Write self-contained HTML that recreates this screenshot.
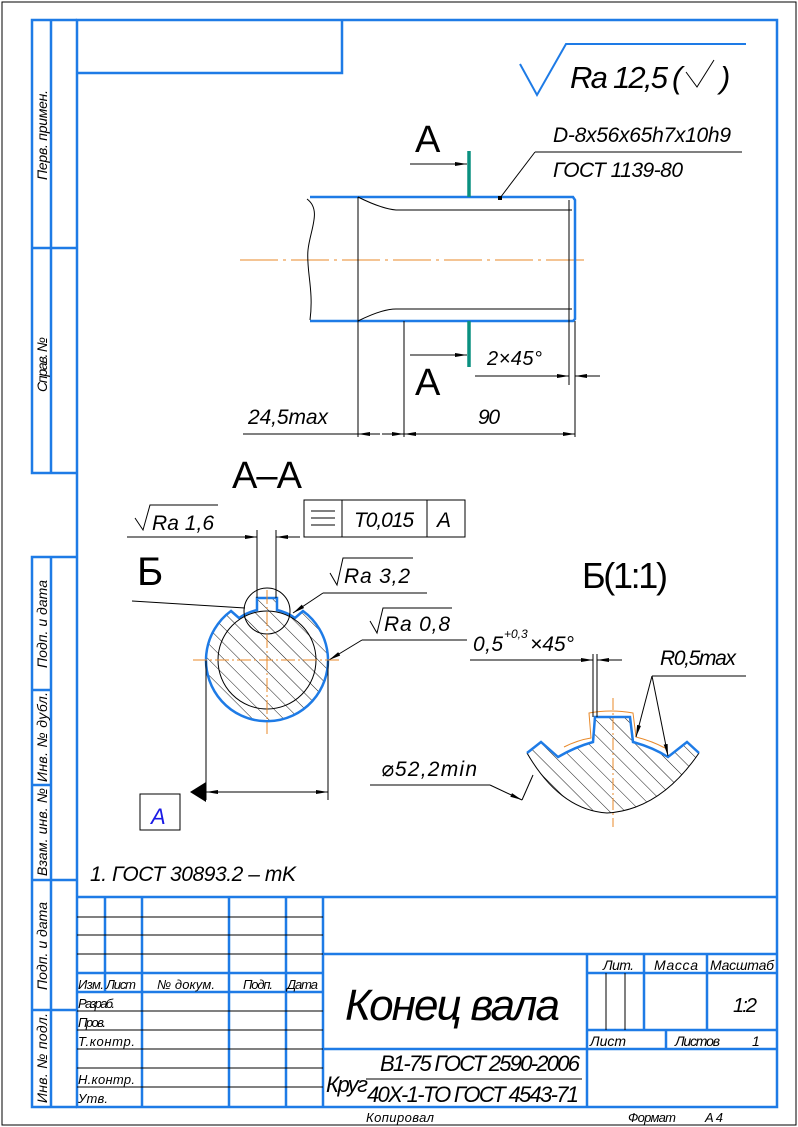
<!DOCTYPE html>
<html><head><meta charset="utf-8"><style>
html,body{margin:0;padding:0;background:#fff}
svg{display:block}
text{font-family:"Liberation Sans","DejaVu Sans",sans-serif;font-style:italic;fill:#000}
text.n{font-style:normal}
</style></head><body>
<svg width="798" height="1127" viewBox="0 0 798 1127" xmlns="http://www.w3.org/2000/svg">
<defs>
<pattern id="h" patternUnits="userSpaceOnUse" width="11" height="11" patternTransform="rotate(-45)">
<line x1="0" y1="0" x2="0" y2="11" stroke="#000" stroke-width="0.9"/>
</pattern>
<marker id="ar" viewBox="0 0 12 6" refX="12" refY="3" markerWidth="12" markerHeight="6" markerUnits="userSpaceOnUse" orient="auto">
<path d="M0,1 L12,3 L0,5 z" fill="#000"/></marker>
</defs>
<rect x="2" y="2" width="794" height="1123" fill="none" stroke="#000" stroke-width="1"/>
<g stroke="#1e7be6" stroke-width="2.5" fill="none">
<rect x="77" y="20" width="700" height="1087"/>
<polyline points="77,73 342,73 342,20"/>
<polyline points="77,20 32,20 32,473 77,473"/>
<line x1="51" y1="20" x2="51" y2="473"/>
<line x1="32" y1="248" x2="77" y2="248"/>
<polyline points="77,557 32,557 32,1107 77,1107"/>
<line x1="51" y1="557" x2="51" y2="1107"/>
<line x1="32" y1="690" x2="51" y2="690"/>
<line x1="32" y1="785" x2="51" y2="785"/>
<line x1="32" y1="880" x2="77" y2="880"/>
<line x1="32" y1="1010" x2="77" y2="1010"/>
<line x1="77" y1="897" x2="777" y2="897"/>
<line x1="105" y1="897" x2="105" y2="992"/>
<line x1="142" y1="897" x2="142" y2="1107"/>
<line x1="229" y1="897" x2="229" y2="1107"/>
<line x1="286" y1="897" x2="286" y2="1107"/>
<line x1="323" y1="897" x2="323" y2="1107"/>
<line x1="77" y1="973" x2="323" y2="973"/>
<line x1="77" y1="992" x2="323" y2="992"/>
<line x1="323" y1="954" x2="777" y2="954"/>
<line x1="323" y1="1049" x2="777" y2="1049"/>
<line x1="587" y1="954" x2="587" y2="1107"/>
<line x1="644" y1="954" x2="644" y2="1030"/>
<line x1="707" y1="954" x2="707" y2="1030"/>
<line x1="587" y1="973" x2="777" y2="973"/>
<line x1="587" y1="1030" x2="777" y2="1030"/>
<line x1="666" y1="1030" x2="666" y2="1049"/>
</g>
<g stroke="#000" stroke-width="1">
<line x1="77" y1="917" x2="323" y2="917"/>
<line x1="77" y1="935" x2="323" y2="935"/>
<line x1="77" y1="954" x2="323" y2="954"/>
<line x1="77" y1="1011" x2="323" y2="1011"/>
<line x1="77" y1="1030" x2="323" y2="1030"/>
<line x1="77" y1="1049" x2="323" y2="1049"/>
<line x1="77" y1="1068" x2="323" y2="1068"/>
<line x1="77" y1="1087" x2="323" y2="1087"/>
<line x1="606" y1="973" x2="606" y2="1030"/>
<line x1="625" y1="973" x2="625" y2="1030"/>
<line x1="366" y1="1079" x2="582" y2="1079"/>
</g>
<g font-size="14">
<text transform="translate(47,180) rotate(-90)" textLength="90">Перв. примен.</text>
<text transform="translate(47,392) rotate(-90)" textLength="55">Справ. №</text>
<text transform="translate(47,668) rotate(-90)" textLength="88">Подп. и дата</text>
<text transform="translate(47,782) rotate(-90)" textLength="90">Инв. № дубл.</text>
<text transform="translate(47,876) rotate(-90)" textLength="88">Взам. инв. №</text>
<text transform="translate(47,990) rotate(-90)" textLength="88">Подп. и дата</text>
<text transform="translate(47,1103) rotate(-90)" textLength="90">Инв. № подл.</text>
<text x="78" y="989" textLength="26" font-size="13">Изм.</text>
<text x="106" y="989" textLength="30" font-size="13">Лист</text>
<text x="157" y="989" textLength="58" font-size="13">№ докум.</text>
<text x="243" y="989" textLength="30" font-size="13">Подп.</text>
<text x="287" y="989" textLength="31" font-size="13">Дата</text>
<text x="78" y="1008" textLength="37" font-size="13">Разраб.</text>
<text x="78" y="1027" textLength="28" font-size="13">Пров.</text>
<text x="78" y="1046" textLength="57" font-size="13">Т.контр.</text>
<text x="78" y="1084" textLength="57" font-size="13">Н.контр.</text>
<text x="78" y="1103" textLength="30" font-size="13">Утв.</text>
<text x="603" y="970" textLength="31" font-size="14">Лит.</text>
<text x="654" y="970" textLength="44" font-size="14">Масса</text>
<text x="710" y="970" textLength="64" font-size="14">Масштаб</text>
<text x="733" y="1012" font-size="20" textLength="24">1:2</text>
<text x="590" y="1046" textLength="36" font-size="14">Лист</text>
<text x="675" y="1046" textLength="45" font-size="14">Листов</text>
<text x="752" y="1046" font-size="14">1</text>
<text x="366" y="1122" textLength="68" font-size="13">Копировал</text>
<text x="628" y="1122" textLength="48" font-size="13">Формат</text>
<text x="705" y="1122" textLength="18" font-size="13">A4</text>
</g>
<text x="345" y="1020" font-size="44" textLength="215">Конец вала</text>
<text x="326" y="1092" font-size="22" textLength="42">Круг</text>
<text x="380" y="1071" font-size="22" textLength="200">В1-75 ГОСТ 2590-2006</text>
<text x="367" y="1102" font-size="22" textLength="212">40Х-1-ТО ГОСТ 4543-71</text>
<text x="90" y="881" font-size="21" textLength="206">1. ГОСТ 30893.2 – mK</text>

<!-- top roughness -->
<polyline points="520,64 537,95 566,44 746,44" fill="none" stroke="#1e7be6" stroke-width="2"/>
<text x="570" y="88" font-size="31" textLength="98">Ra 12,5</text>
<text x="672" y="88" font-size="31">(</text>
<text x="720" y="88" font-size="31">)</text>
<polyline points="686,72 697,87 714,60" fill="none" stroke="#000" stroke-width="1"/>

<!-- shaft view -->
<line x1="240" y1="260" x2="585" y2="260" stroke="#e8892a" stroke-width="1" stroke-dasharray="38,5,3,5"/>
<g fill="none" stroke="#1e7be6" stroke-width="2.5">
<polyline points="310,197 573,197 575,200 575,319 573,321 310,321"/>
</g>
<g fill="none" stroke="#000" stroke-width="1">
<path d="M307,199 C322,210 310,230 308,250 C306,270 314,290 310,320"/>
<line x1="358" y1="197" x2="358" y2="437"/>
<path d="M358,197 C372,204 385,209 396,210 L572,210"/>
<path d="M358,321 C372,314 385,309 396,309 L572,309"/>
<line x1="569" y1="200" x2="569" y2="385"/>
<line x1="575" y1="321" x2="575" y2="437"/>
<line x1="404" y1="321" x2="404" y2="437"/>
<line x1="500" y1="198" x2="535" y2="152"/>
<line x1="535" y1="152" x2="742" y2="152"/>
<line x1="410" y1="164" x2="467" y2="164" marker-end="url(#ar)"/>
<line x1="410" y1="355" x2="467" y2="355" marker-end="url(#ar)"/>
<line x1="475" y1="376" x2="569" y2="376" marker-end="url(#ar)"/>
<line x1="600" y1="376" x2="575" y2="376" marker-end="url(#ar)"/>
<line x1="243" y1="434" x2="358" y2="434"/>
<line x1="380" y1="434" x2="358" y2="434" marker-end="url(#ar)"/>
<line x1="382" y1="434" x2="404" y2="434" marker-end="url(#ar)"/>
<line x1="404" y1="434" x2="575" y2="434" marker-end="url(#ar)"/>
<line x1="575" y1="434" x2="404" y2="434" marker-end="url(#ar)"/>
</g>
<rect x="498" y="196" width="4" height="4" fill="#000"/>
<g stroke="#0a9080" stroke-width="3.5"><line x1="469" y1="151" x2="469" y2="197"/><line x1="469" y1="321" x2="469" y2="367"/></g>
<text class="n" x="415" y="152" font-size="38" textLength="24">A</text>
<text class="n" x="415" y="395" font-size="38" textLength="24">A</text>
<text x="553" y="142" font-size="21" textLength="178">D-8x56x65h7x10h9</text>
<text x="553" y="177" font-size="21" textLength="130">ГОСТ 1139-80</text>
<text x="487" y="365" font-size="20" textLength="55">2×45°</text>
<text x="248" y="424" font-size="21" textLength="80">24,5max</text>
<text x="478" y="424" font-size="21" textLength="22">90</text>

<!-- section A-A -->
<text class="n" x="232" y="488" font-size="38" textLength="70">A–A</text>
<path d="M231,611 L239,618 A51,51 0 0 1 257,610 L257,598 L277,598 L277,610 A51,51 0 0 1 295,618 L303,611 A61,61 0 1 1 231,611 Z" fill="url(#h)" stroke="#1e7be6" stroke-width="2.5"/>
<g fill="none" stroke="#000" stroke-width="1">
<circle cx="267" cy="660" r="49"/>
<circle cx="267" cy="611" r="23"/>
<line x1="206" y1="660" x2="206" y2="800"/>
<line x1="328" y1="660" x2="328" y2="800"/>
<line x1="230" y1="792" x2="206" y2="792" marker-end="url(#ar)"/>
<line x1="300" y1="792" x2="328" y2="792" marker-end="url(#ar)"/>
<line x1="206" y1="792" x2="328" y2="792"/>
<line x1="257" y1="530" x2="257" y2="598"/>
<line x1="276" y1="530" x2="276" y2="598"/>
<line x1="127" y1="537" x2="257" y2="537"/>
<line x1="235" y1="537" x2="257" y2="537" marker-end="url(#ar)"/>
<line x1="300" y1="537" x2="276" y2="537" marker-end="url(#ar)"/>
<line x1="132" y1="601" x2="245" y2="608"/>
<line x1="427" y1="593" x2="323" y2="593"/>
<line x1="323" y1="593" x2="293" y2="613" marker-end="url(#ar)"/>
<line x1="467" y1="640" x2="362" y2="640"/>
<line x1="362" y1="640" x2="329" y2="660" marker-end="url(#ar)"/>
<rect x="304" y="500" width="161" height="37"/>
<line x1="342" y1="500" x2="342" y2="537"/>
<line x1="427" y1="500" x2="427" y2="537"/>
<line x1="311" y1="511" x2="335" y2="511"/>
<line x1="311" y1="518" x2="335" y2="518"/>
<line x1="311" y1="525" x2="335" y2="525"/>
<rect x="140" y="794" width="40" height="36"/>
<polyline points="135,518 143,530 150,505 218,505"/>
<polyline points="330,573 337,585 343,558 413,558"/>
<polyline points="370,621 377,633 383,608 452,608"/>
</g>
<g stroke="#e8892a" stroke-width="1" stroke-dasharray="14,3,2,3"><line x1="193" y1="660" x2="340" y2="660"/><line x1="267" y1="590" x2="267" y2="734"/></g>
<path d="M190,792 L206,782 L206,802 Z" fill="#000"/>
<text x="151" y="824" font-size="22" style="fill:#1a1ae6">A</text>
<text x="354" y="527" font-size="21" textLength="60">T0,015</text>
<text x="437" y="527" font-size="21">A</text>
<text x="152" y="530" font-size="21" textLength="62">Ra 1,6</text>
<text x="344" y="583" font-size="21" textLength="66">Ra 3,2</text>
<text x="384" y="631" font-size="21" textLength="66">Ra 0,8</text>
<text class="n" x="137" y="585" font-size="40" textLength="26">Б</text>

<!-- detail Б -->
<text class="n" x="582" y="588" font-size="36" textLength="86">Б(1:1)</text>
<path d="M527,753 L541,742 L558,757 Q575,747 593,742 L595,717 L630,717 L633,742 Q652,747 668,757 L687,742 L699,753 Q660,810 607,813 Q560,810 527,753 Z" fill="url(#h)" stroke="none"/>
<path d="M527,753 Q560,810 607,813 Q660,810 699,753" fill="none" stroke="#000" stroke-width="1"/>
<path d="M527,753 L541,742 L558,757 Q575,747 593,742 L595,717 L630,717 L633,742 Q652,747 668,757 L687,742 L699,753" fill="none" stroke="#1e7be6" stroke-width="2.5"/>
<path d="M564,747 Q578,740 591,738 L589,713 Q611,709 633,713 L636,737 Q652,741 665,748" fill="none" stroke="#e8892a" stroke-width="1"/>
<line x1="613" y1="698" x2="613" y2="827" stroke="#e8892a" stroke-width="1" stroke-dasharray="12,3,2,3"/>
<g fill="none" stroke="#000" stroke-width="1">
<line x1="593" y1="654" x2="593" y2="717"/>
<line x1="597" y1="654" x2="597" y2="717"/>
<line x1="470" y1="660" x2="593" y2="660"/>
<line x1="575" y1="660" x2="593" y2="660" marker-end="url(#ar)"/>
<line x1="622" y1="660" x2="597" y2="660" marker-end="url(#ar)"/>
<line x1="746" y1="676" x2="652" y2="676"/>
<line x1="652" y1="676" x2="636" y2="737" marker-end="url(#ar)"/>
<line x1="652" y1="676" x2="668" y2="756" marker-end="url(#ar)"/>
<line x1="370" y1="785" x2="490" y2="785"/>
<line x1="490" y1="785" x2="522" y2="800" marker-end="url(#ar)"/>
<line x1="522" y1="800" x2="533" y2="775"/>
</g>
<text x="473" y="651" font-size="21" textLength="30">0,5</text>
<text x="504" y="638" font-size="12">+0,3</text>
<text x="530" y="651" font-size="21" textLength="44">×45°</text>
<text x="660" y="665" font-size="21" textLength="76">R0,5max</text>
<text x="381" y="776" font-size="21" textLength="96">⌀52,2min</text>
</svg>
</body></html>
